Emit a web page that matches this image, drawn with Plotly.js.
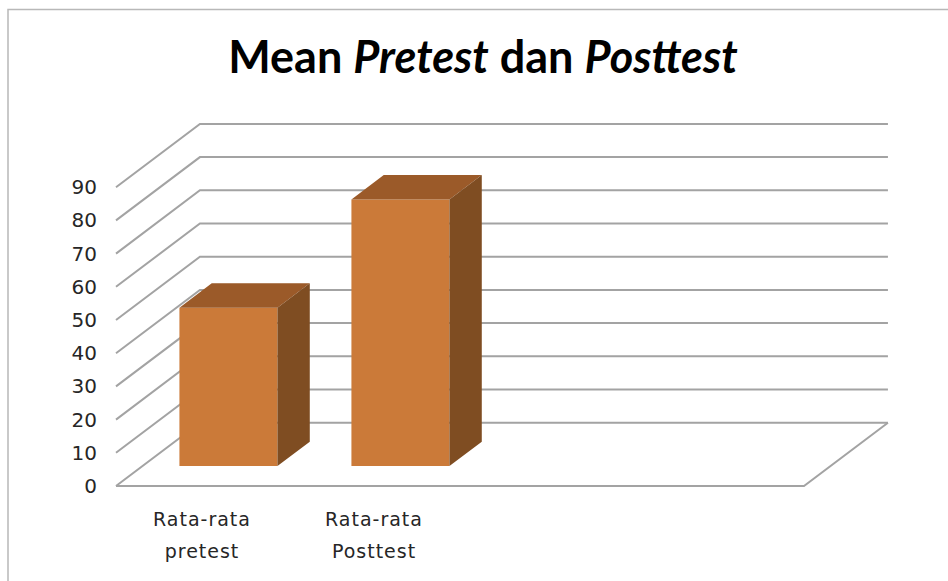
<!DOCTYPE html>
<html>
<head>
<meta charset="utf-8">
<script src="https://cdn.plot.ly/plotly-3.0.1.min.js"></script>
<style>
html,body{margin:0;padding:0;background:#fff;}
#chart{width:948px;height:581px;}
.xtick text,.x2tick text{letter-spacing:1px;}
</style>
</head>
<body>
<div id="chart"></div>
<script>
// ---- data ----
const categories = ['Rata-rata pretest', 'Rata-rata Posttest'];
const meanValues = [47.7, 80.3];
const yTickValues = [0, 10, 20, 30, 40, 50, 60, 70, 80, 90];
const yTickLabels = ['0', '10', '20', '30', '40', '50', '60', '70', '80', '90'];
const slotCount = 4; // category slots on the floor

// category labels are wrapped onto two lines
const labelLine1 = categories.map(c => c.slice(0, c.indexOf(' ')));
const labelLine2 = categories.map(c => c.slice(c.indexOf(' ') + 1));

// ---- 3D projection helpers (oblique), in axis units ----
const DX = 0.488;   // depth shift along x (category units)
const DY = 19.07;   // depth shift along y (value units)
const F1 = 0.315;   // depth fraction of bar front face
const F2 = 0.70;    // depth fraction of bar back face
const HALF = 0.285; // half bar width

const xIdx = categories.map((c, i) => i);

// Back wall gridlines + left wall diagonals as shapes (below traces)
const shapes = [];
const gridColor = '#a3a3a3';
yTickValues.forEach(v => {
  shapes.push({type: 'path', layer: 'below', xref: 'x', yref: 'y',
    path: `M ${-0.5},${v} L ${-0.5 + DX},${v + DY} L ${slotCount - 0.5 + DX},${v + DY}`,
    line: {color: gridColor, width: 2}});
});
// floor front and right edges
shapes.push({type: 'path', layer: 'below', xref: 'x', yref: 'y',
  path: `M ${-0.5},0 L ${slotCount - 0.5},0 L ${slotCount - 0.5 + DX},${DY}`,
  line: {color: gridColor, width: 2}});
// chart border
shapes.push({type: 'rect', xref: 'paper', yref: 'paper',
  x0: (8 - 110) / 783, x1: 2, y0: -2, y1: (492 - 9.5) / 373,
  line: {color: '#b8b8b8', width: 1.5}, fillcolor: 'rgba(0,0,0,0)'});

// Front faces: real bar trace
const frontTrace = {
  type: 'bar',
  x: xIdx.map(i => i + DX * F1),
  y: meanValues,
  base: meanValues.map(() => DY * F1),
  width: 2 * HALF,
  marker: {color: '#cb7a39', line: {width: 0}},
  hoverinfo: 'skip',
  showlegend: false
};

// Top and side faces computed from the same values
const topX = [], topY = [], sideX = [], sideY = [];
xIdx.forEach((i, k) => {
  const v = meanValues[k];
  const x0 = i + DX * F1 - HALF, x1 = i + DX * F1 + HALF;
  const b1 = DY * F1, b2 = DY * F2, ddx = DX * (F2 - F1);
  topX.push(x0, x1, x1 + ddx, x0 + ddx, x0, null);
  topY.push(v + b1, v + b1, v + b2, v + b2, v + b1, null);
  sideX.push(x1, x1, x1 + ddx, x1 + ddx, x1, null);
  sideY.push(b1, v + b1, v + b2, b2, b1, null);
});
const topTrace = {type: 'scatter', mode: 'lines', x: topX, y: topY, fill: 'toself',
  fillcolor: '#9b5a29', line: {width: 0, color: '#9b5a29'}, hoverinfo: 'skip', showlegend: false};
const sideTrace = {type: 'scatter', mode: 'lines', x: sideX, y: sideY, fill: 'toself',
  fillcolor: '#7f4d22', line: {width: 0, color: '#7f4d22'}, hoverinfo: 'skip', showlegend: false};
// invisible carrier trace for the second label line axis
const carrier = {type: 'scatter', mode: 'markers', x: xIdx, y: meanValues, xaxis: 'x2', yaxis: 'y',
  marker: {opacity: 0, size: 1}, hoverinfo: 'skip', showlegend: false};

const xRange = [-0.5 - 6 / 172, -0.5 - 6 / 172 + 783 / 172];
const tickFontX = {family: '"DejaVu Sans", Verdana, sans-serif', size: 19, color: '#262626'};

const layout = {
  width: 948, height: 581,
  margin: {l: 110, r: 55, t: 119, b: 89},
  paper_bgcolor: '#ffffff', plot_bgcolor: 'rgba(0,0,0,0)',
  showlegend: false,
  title: {
    text: '<b>Mean <i>Pretest</i> dan <i>Posttest</i></b>',
    font: {family: 'Lato, "Open Sans", sans-serif', size: 45, color: '#000'},
    xref: 'container', yref: 'container', x: 483 / 948, y: 1 - 57 / 581,
    xanchor: 'center', yanchor: 'middle'
  },
  xaxis: {
    range: xRange,
    tickvals: xIdx, ticktext: labelLine1,
    showgrid: false, zeroline: false, showline: false, ticks: '',
    ticklabelstandoff: 14,
    tickfont: tickFontX,
    fixedrange: true
  },
  xaxis2: {
    range: xRange, overlaying: 'x', anchor: 'y', side: 'bottom',
    tickvals: xIdx, ticktext: labelLine2,
    showgrid: false, zeroline: false, showline: false, ticks: '',
    ticklabelstandoff: 46,
    tickfont: tickFontX,
    fixedrange: true
  },
  yaxis: {
    range: [-6 / 3.32, -6 / 3.32 + 373 / 3.32],
    tickvals: yTickValues, ticktext: yTickLabels,
    showgrid: false, zeroline: false, showline: false, ticks: '',
    ticklabelstandoff: 12,
    tickfont: {family: '"DejaVu Sans", Verdana, sans-serif', size: 20, color: '#262626'},
    fixedrange: true
  },
  shapes: shapes
};

Plotly.newPlot('chart', [frontTrace, topTrace, sideTrace, carrier], layout, {displayModeBar: false, staticPlot: true});
</script>
</body>
</html>
